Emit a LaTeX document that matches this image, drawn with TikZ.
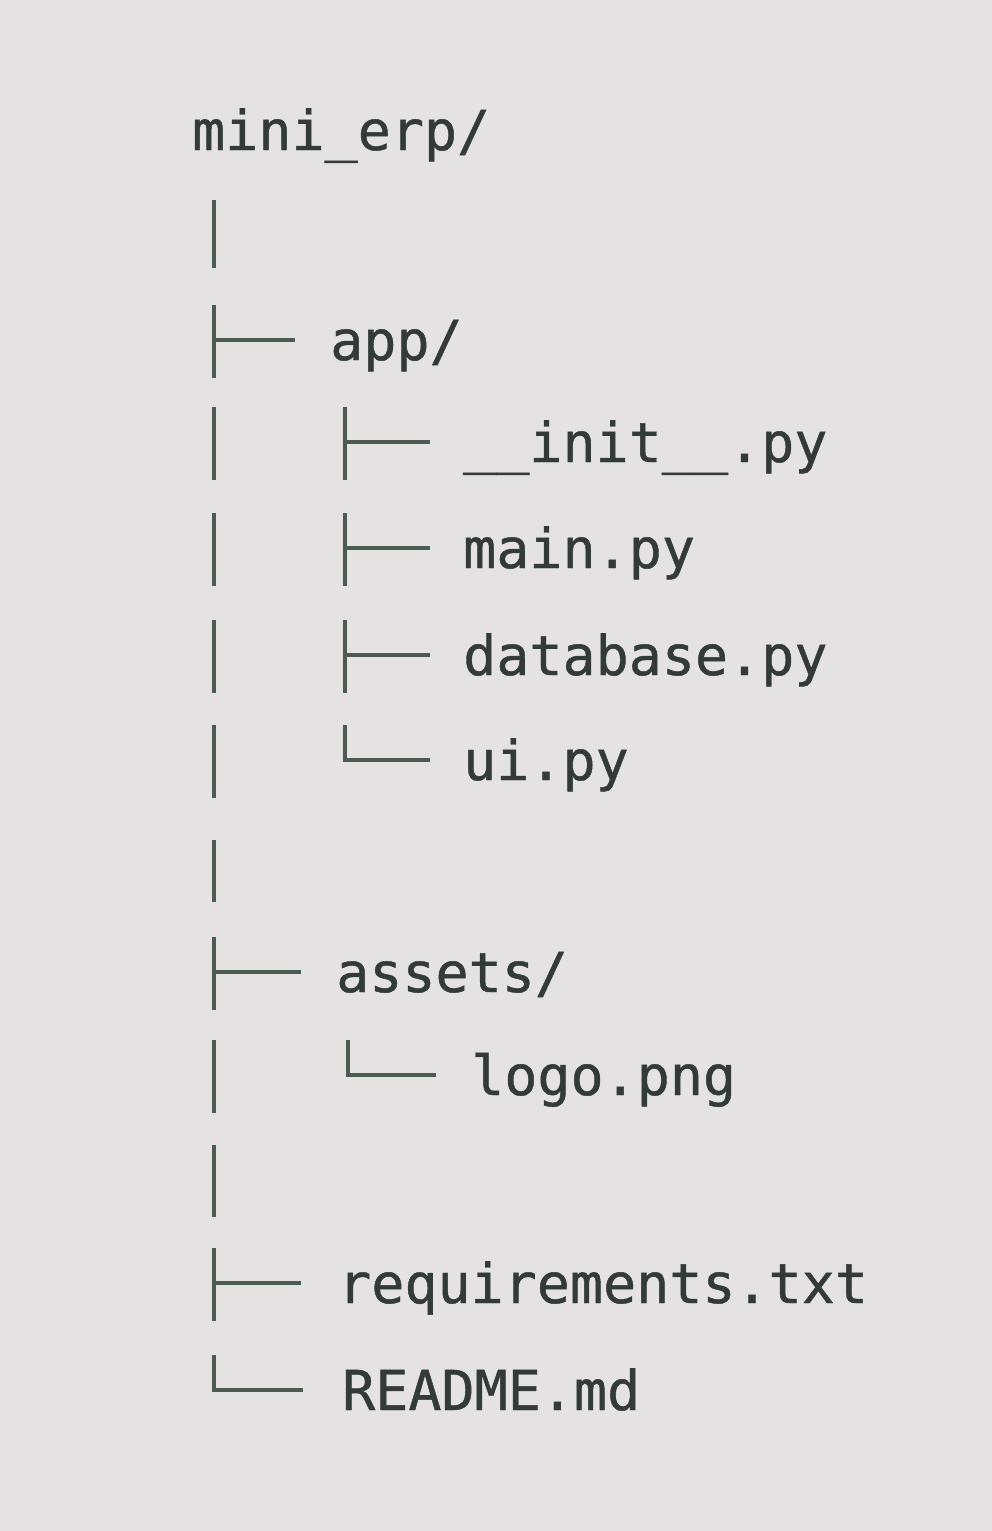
\documentclass[tikz,border=0pt]{standalone}
\usepackage{fontspec}
\setmonofont{DejaVu Sans Mono}[BoldFont={DejaVu Sans Mono}, BoldFeatures={FakeBold=0.8}]
\usetikzlibrary{calc}
\definecolor{screen}{HTML}{E4E2E2}
\definecolor{ink}{HTML}{333B39}
\definecolor{rule}{HTML}{4B5B52}
\tikzset{
    file/.style={anchor=base west, inner sep=0pt, text height=40pt, text depth=0pt, text=ink,
        font=\ttfamily\bfseries\fontsize{55}{60}\selectfont},
    tree/.style={draw=rule, line width=4.5pt}
}

\begin{document}
\begin{tikzpicture}[x=1pt, y=-1pt]
    \fill[screen] (0,0) rectangle (992,1531);
    \coordinate (trunk) at (214,0);
    \coordinate (inner) at (345,0);
    % Корень проекта
    \node[file] (root) at (192,150) {mini\_erp/};
    \draw[tree] (trunk |- 0,200) -- (trunk |- 0,268);
    % Папка app/
    \node[file] (app) at (330,360) {app/};
    \draw[tree] ($(app.west -| trunk)+(0,-35)$) -- ++(0,73);
    \draw[tree] (app.west -| trunk) -- ([xshift=-35pt]app.west);
    \node[file] (init) at (463,462) {\_\_init\_\_.py};
    \node[file] (mainpy) at (463,568) {main.py};
    \node[file] (dbpy) at (463,675) {database.py};
    \node[file] (uipy) at (463,780) {ui.py};
    \draw[tree] ($(init.west -| trunk)+(0,-35)$) -- ++(0,73);
    \draw[tree] ($(mainpy.west -| trunk)+(0,-35)$) -- ++(0,73);
    \draw[tree] ($(dbpy.west -| trunk)+(0,-35)$) -- ++(0,73);
    \draw[tree] ($(uipy.west -| trunk)+(0,-35)$) -- ++(0,73);
    \draw[tree] ($(init.west -| inner)+(0,-35)$) -- ++(0,73);
    \draw[tree] (init.west -| inner) -- ([xshift=-33pt]init.west);
    \draw[tree] ($(mainpy.west -| inner)+(0,-35)$) -- ++(0,73);
    \draw[tree] (mainpy.west -| inner) -- ([xshift=-33pt]mainpy.west);
    \draw[tree] ($(dbpy.west -| inner)+(0,-35)$) -- ++(0,73);
    \draw[tree] (dbpy.west -| inner) -- ([xshift=-33pt]dbpy.west);
    \draw[tree] ($(uipy.west -| inner)+(0,-35)$) |- ([xshift=-33pt]uipy.west);
    \draw[tree] (trunk |- 0,840) -- (trunk |- 0,902);
    % Папка assets/
    \node[file] (assets) at (336,992) {assets/};
    \draw[tree] ($(assets.west -| trunk)+(0,-35)$) -- ++(0,73);
    \draw[tree] (assets.west -| trunk) -- ([xshift=-35pt]assets.west);
    \node[file] (logo) at (471,1095) {logo.png};
    \draw[tree] ($(logo.west -| trunk)+(0,-35)$) -- ++(0,73);
    \draw[tree] ($(logo.west -| inner)+(3,-35)$) |- ([xshift=-35pt]logo.west);
    \draw[tree] (trunk |- 0,1145) -- (trunk |- 0,1217);
    % Файлы в корне
    \node[file] (req) at (338,1303) {requirements.txt};
    \node[file] (readme) at (342,1410) {README.md};
    \draw[tree] ($(req.west -| trunk)+(0,-35)$) -- ++(0,73);
    \draw[tree] (req.west -| trunk) -- ([xshift=-37pt]req.west);
    \draw[tree] ($(readme.west -| trunk)+(0,-35)$) |- ([xshift=-39pt]readme.west);
\end{tikzpicture}
\end{document}
